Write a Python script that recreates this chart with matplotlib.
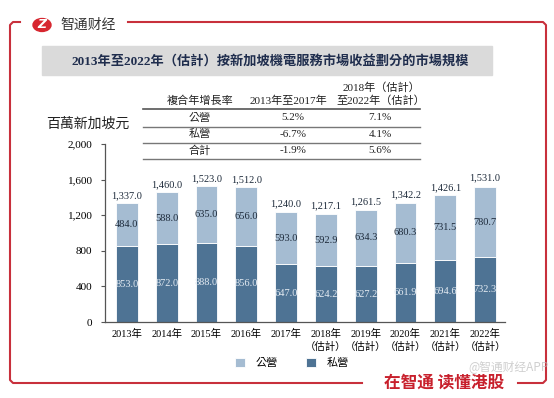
import numpy as np
import matplotlib.pyplot as plt
from matplotlib.lines import Line2D
from matplotlib.patches import Circle, Rectangle

# data
years = ["2013年", "2014年", "2015年", "2016年", "2017年",
         "2018年\n（估計）", "2019年\n（估計）", "2020年\n（估計）", "2021年\n（估計）", "2022年\n（估計）"]
private = [853.0, 872.0, 888.0, 856.0, 647.0, 624.2, 627.2, 661.9, 694.6, 732.3]
public = [484.0, 588.0, 635.0, 656.0, 593.0, 592.9, 634.3, 680.3, 731.5, 780.7]
totals = [1337.0, 1460.0, 1523.0, 1512.0, 1240.0, 1217.1, 1261.5, 1342.2, 1426.1, 1531.0]

cagr_rows = ["公營", "私營", "合計"]
cagr_1317 = ["5.2%", "-6.7%", "-1.9%"]
cagr_1822 = ["7.1%", "4.1%", "5.6%"]

W, H = 554, 398
LIGHT = "#a5bcd2"
DARK = "#4e7394"
RED = "#c8303c"
NAVY = "#1f2d4d"
FONT = ["Liberation Serif", "Noto Sans CJK TC", "DejaVu Sans"]
plt.rcParams['font.family'] = FONT

fig = plt.figure(figsize=(W / 100, H / 100), dpi=100)


def px(x, y):
    return x / W, 1 - y / H


def ftext(x, y, s, **kw):
    fig.text(*px(x, y), s, **kw)


def fline(xs, ys, **kw):
    fx = [x / W for x in xs]
    fy = [1 - y / H for y in ys]
    fig.add_artist(Line2D(fx, fy, transform=fig.transFigure, **kw))


# red frame
fline([20, 13, 10, 10, 13, 362], [22, 22, 25, 380, 383, 383], color=RED, lw=1.5)
fline([128, 543, 546, 546, 543, 518], [22, 22, 25, 380, 383, 383], color=RED, lw=1.5)

# logo
fig.add_artist(Circle(px(42, 25), 9 / W, transform=fig.transFigure, color="#d7262f"))
ftext(42, 25, "Z", color="white", fontsize=9, fontweight="bold", ha="center", va="center",
      family="DejaVu Sans", style="italic")
ftext(60, 25, "智通财经", fontsize=10, color="#333333", va="center", family="Noto Sans CJK SC")

# bottom slogan + watermark
ftext(384, 383, "在智通 读懂港股", fontsize=12, fontweight="bold", color="#c8202c", va="center",
      family="Noto Sans CJK SC")
ftext(468, 367, "@智通财经APP", fontsize=8.5, color="#bbbbbb", alpha=0.7, va="center",
      family="Noto Sans CJK SC")

# title band
fig.add_artist(Rectangle(px(42, 75), 450 / W, 29 / H, transform=fig.transFigure,
                         color="#dadada", zorder=0))
ftext(270, 61, "2013年至2022年（估計）按新加坡機電服務市場收益劃分的市場規模",
      fontsize=9.5, fontweight="bold", color=NAVY, ha="center", va="center")

# cagr table
ftext(200, 101, "複合年增長率", fontsize=8, ha="center", va="center", color="#222222")
ftext(288, 101, "2013年至2017年", fontsize=8, ha="center", va="center", color="#222222")
ftext(381, 88, "2018年（估計）", fontsize=8, ha="center", va="center", color="#222222")
ftext(381, 101, "至2022年（估計）", fontsize=8, ha="center", va="center", color="#222222")
fline([143, 420], [109, 109], color="#555555", lw=1.2)
for i, name in enumerate(cagr_rows):
    y = 118 + i * 16.5
    ftext(200, y, name, fontsize=8, ha="center", va="center", color="#222222")
    ftext(293, y, cagr_1317[i], fontsize=8, ha="center", va="center", color="#222222")
    ftext(380, y, cagr_1822[i], fontsize=8, ha="center", va="center", color="#222222")
    fline([143, 420], [127 + i * 16, 127 + i * 16], color="#777777", lw=1.0)

ftext(88, 124, "百萬新加坡元", fontsize=10, ha="center", va="center", color="#222222")

# chart
ax = fig.add_axes([105 / W, 1 - 322 / H, 400 / W, 178 / H])
x = np.arange(len(years))
ax.bar(x, private, width=0.55, color=DARK, edgecolor="white", linewidth=0.6, label="私營")
ax.bar(x, public, width=0.55, bottom=private, color=LIGHT, edgecolor="white", linewidth=0.6,
       label="公營")

for i in range(len(years)):
    ax.text(x[i], private[i] / 2, f"{private[i]:.1f}", ha="center", va="center",
            fontsize=7.5, color="#e4ebf2")
    ax.text(x[i], private[i] + public[i] / 2, f"{public[i]:.1f}", ha="center", va="center",
            fontsize=7.5, color="#1d2a3a")
    ax.text(x[i], totals[i] + 35, f"{totals[i]:,.1f}", ha="center", va="bottom",
            fontsize=7.5, color="#1d2a3a")

ax.set_xlim(-0.55, 9.5)
ax.set_ylim(0, 2000)
ax.set_yticks(np.arange(0, 2001, 400))
ax.set_yticklabels([f"{v:,}" for v in range(0, 2001, 400)], fontsize=8)
ax.set_xticks(x)
ax.set_xticklabels(years, fontsize=7.5, linespacing=1.25)
ax.tick_params(axis="x", length=0, pad=5)
ax.tick_params(axis="y", length=3, pad=6, color="#555555")
for s in ["top", "right"]:
    ax.spines[s].set_visible(False)
for s in ["left", "bottom"]:
    ax.spines[s].set_color("#555555")
    ax.spines[s].set_linewidth(0.9)

handles, labels = ax.get_legend_handles_labels()
fig.legend(handles[::-1], labels[::-1], loc="center", bbox_to_anchor=px(292, 363), ncol=2,
           frameon=False, fontsize=8, handlelength=0.9, handleheight=0.9,
           columnspacing=2.5, handletextpad=1.0)

fig.savefig("out.png", dpi=100)
